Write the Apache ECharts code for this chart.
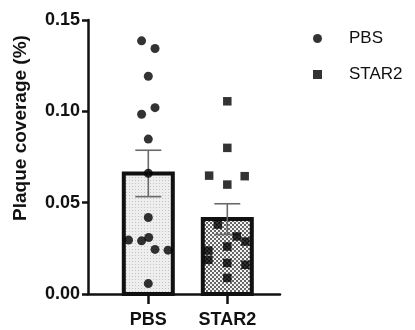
<!DOCTYPE html>
<html>
<head>
<meta charset="utf-8">
<script src="https://cdn.jsdelivr.net/npm/echarts@6/dist/echarts.min.js"></script>
<style>html,body{margin:0;padding:0;background:#fff}#c{width:415px;height:330px}</style>
</head>
<body>
<div id="c"></div>
<script>
const categories = ['PBS', 'STAR2'];
const means = [0.0660, 0.0410];
const sems = [0.0127, 0.0084];
const pbsValues = [0.1386, 0.1344, 0.1192, 0.1020, 0.0984, 0.0848, 0.0661, 0.0419, 0.0295, 0.0291, 0.0309, 0.0244, 0.0240, 0.0057];
const pbsJitter = [-0.085, 0.085, 0, 0.085, -0.085, 0, 0, 0, -0.25, -0.085, 0.005, 0.085, 0.25, 0];
const star2Values = [0.1055, 0.0800, 0.0648, 0.0645, 0.0599, 0.0380, 0.0315, 0.0287, 0.0260, 0.0238, 0.0187, 0.0170, 0.0160, 0.0088];
const star2Jitter = [0, 0, -0.23, 0.22, 0, -0.12, 0.12, 0.23, 0, -0.24, -0.24, 0, 0.23, 0];
const yTicks = [0, 0.05, 0.10, 0.15];

const FONT = 'Liberation Sans, Arial, sans-serif';

function makePattern(kind) {
  const c = document.createElement('canvas');
  if (kind === 0) {
    c.width = 3; c.height = 3;
    const g = c.getContext('2d');
    g.fillStyle = '#eeeeee'; g.fillRect(0, 0, 3, 3);
    g.fillStyle = '#c4c4c4'; g.fillRect(0, 0, 1, 1);
  } else {
    c.width = 4; c.height = 4;
    const g = c.getContext('2d');
    g.fillStyle = '#f4f4f4'; g.fillRect(0, 0, 4, 4);
    g.fillStyle = '#666666';
    g.fillRect(0, 0, 2, 2); g.fillRect(2, 2, 2, 2);
  }
  return { image: c, repeat: 'repeat' };
}
const patterns = [makePattern(0), makePattern(1)];

const barData = categories.map((c, i) => [i + 1, means[i], sems[i]]);
const pbsData = pbsValues.map((v, i) => [1 + pbsJitter[i], v]);
const star2Data = star2Values.map((v, i) => [2 + star2Jitter[i], v]);

const chart = echarts.init(document.getElementById('c'), null, { renderer: 'canvas' });
chart.setOption({
  animation: false,
  backgroundColor: '#fff',
  grid: { left: 88, right: 135, top: 20, bottom: 36 },
  xAxis: {
    type: 'value', min: 0.2367, max: 2.667,
    splitLine: { show: false },
    axisLine: { show: true, onZero: false, lineStyle: { color: '#111', width: 2.5 } },
    axisTick: { show: true, customValues: [1, 2], length: 10, lineStyle: { color: '#111', width: 2.5 } },
    axisLabel: {
      customValues: [1, 2], margin: 17,
      formatter: v => categories[Math.round(v) - 1] || '',
      fontFamily: FONT, fontWeight: 'bold', fontSize: 18, color: '#111'
    }
  },
  yAxis: {
    type: 'value', min: 0, max: 0.15, interval: 0.05,
    customValues: yTicks,
    splitLine: { show: false },
    axisLine: { show: true, lineStyle: { color: '#111', width: 2.5 } },
    axisTick: { show: true, length: 6, lineStyle: { color: '#111', width: 2.5 } },
    axisLabel: {
      margin: 8, formatter: v => v.toFixed(2),
      fontFamily: FONT, fontWeight: 'bold', fontSize: 18, color: '#111'
    }
  },
  legend: {
    orient: 'vertical', left: 308, top: 25, itemGap: 19,
    itemWidth: 9, itemHeight: 9,
    textStyle: { fontFamily: FONT, fontSize: 17, color: '#111', padding: [0, 0, 0, 22] },
    data: [{ name: 'PBS', icon: 'circle' }, { name: 'STAR2', icon: 'rect' }]
  },
  graphic: [{
    type: 'text', x: 21, y: 128, rotation: Math.PI / 2,
    style: {
      text: 'Plaque coverage (%)', font: 'bold 19px ' + FONT, fill: '#111',
      align: 'center', verticalAlign: 'middle'
    }
  }],
  series: [
    {
      type: 'custom', name: 'bars', z: 1,
      data: barData,
      encode: { x: 0, y: 1 },
      renderItem(params, api) {
        const x = api.value(0), y = api.value(1);
        const top = api.coord([x, y]);
        const base = api.coord([x, 0]);
        const w = 49;
        return {
          type: 'rect',
          shape: { x: top[0] - w / 2, y: top[1], width: w, height: base[1] - top[1] },
          style: { fill: patterns[params.dataIndex], stroke: '#111', lineWidth: 4 }
        };
      }
    },
    {
      type: 'custom', name: 'sem', z: 2,
      data: barData,
      encode: { x: 0, y: [1, 2] },
      renderItem(params, api) {
        const x = api.value(0), m = api.value(1), s = api.value(2);
        const hi = api.coord([x, m + s]);
        const lo = api.coord([x, m - s]);
        const cw = 13;
        const st = { stroke: '#6a6a6a', lineWidth: 1.6 };
        return {
          type: 'group',
          children: [
            { type: 'line', shape: { x1: hi[0], y1: hi[1], x2: lo[0], y2: lo[1] }, style: st },
            { type: 'line', shape: { x1: hi[0] - cw, y1: hi[1], x2: hi[0] + cw, y2: hi[1] }, style: st },
            { type: 'line', shape: { x1: lo[0] - cw, y1: lo[1], x2: lo[0] + cw, y2: lo[1] }, style: st }
          ]
        };
      }
    },
    {
      type: 'scatter', name: 'PBS', z: 3, symbol: 'circle', symbolSize: 9,
      itemStyle: { color: '#000' }, data: pbsData
    },
    {
      type: 'scatter', name: 'STAR2', z: 3, symbol: 'rect', symbolSize: 8.5,
      itemStyle: { color: '#000' }, data: star2Data
    }
  ]
});
</script>
</body>
</html>
